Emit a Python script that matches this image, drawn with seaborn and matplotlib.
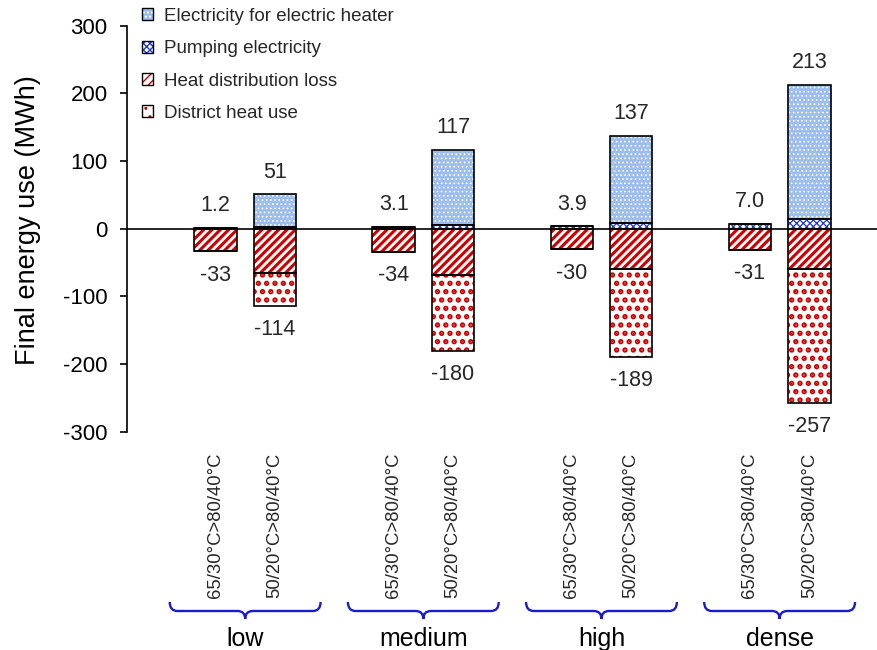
import numpy as np
import pandas as pd
import matplotlib
matplotlib.use("Agg")
import matplotlib.pyplot as plt
import seaborn as sns
from matplotlib.path import Path
from matplotlib.patches import PathPatch, Patch
from matplotlib.transforms import blended_transform_factory
from matplotlib.legend_handler import HandlerTuple

# ---- data (MWh), bars ordered low..dense, each pair = (65/30, 50/20) ----
densities = ["low", "medium", "high", "dense"]
cases = ["65/30°C>80/40°C", "50/20°C>80/40°C"]
heater = [0, 49, 0, 111, 0, 129, 0, 198]
pumping = [1.2, 2, 3.1, 6, 3.9, 8, 7.0, 15]
loss = [-33, -66, -34, -69, -30, -60, -31, -60]
district = [0, -48, 0, -111, 0, -129, 0, -197]

sns.set_theme(style="white")
plt.rcParams["font.family"] = ["Liberation Sans", "DejaVu Sans"]
plt.rcParams["axes.unicode_minus"] = False

pos = [g * 3 + k for g in range(len(densities)) for k in range(len(cases))]
df = pd.DataFrame({"pos": pos, "heater": heater, "pumping": pumping,
                   "loss": loss, "district": district})
df["pos_total"] = df["heater"] + df["pumping"]
df["neg_total"] = df["loss"] + df["district"]

fig = plt.figure(figsize=(8.77, 6.5), dpi=100)
ax = fig.add_axes([0.1448, 0.3358, 0.8552, 0.6247])

W = 0.715
styles = {
    "heater": dict(face="#9dbdec", hatch="....", hcolor="white", hlw=0.7),
    "pumping": dict(face="white", hatch="xxxxx", hcolor="#2238d0", hlw=0.9),
    "loss": dict(face="white", hatch="////", hcolor="#d00000", hlw=2.2),
    "district": dict(face="white", hatch="..", hcolor="#cc0000", hlw=2.6),
}


def layer(col, st):
    before = len(ax.patches)
    with plt.rc_context({"hatch.linewidth": st["hlw"]}):
        sns.barplot(data=df, x="pos", y=col, native_scale=True, width=W,
                    color=st["face"], saturation=1, hatch=st["hatch"],
                    edgecolor=st["hcolor"], linewidth=0, errorbar=None,
                    ax=ax, zorder=2)
    for p in ax.patches[before:]:
        if hasattr(p, "set_hatch_linewidth"):
            p.set_hatch_linewidth(st["hlw"])


# overlapping layers give the stacked look
layer("pos_total", styles["heater"])
layer("pumping", styles["pumping"])
layer("neg_total", styles["district"])
layer("loss", styles["loss"])

# black outlines around every segment
ol = dict(width=W, fill=False, edgecolor="black", linewidth=1.2, zorder=3)
ax.bar(df["pos"], df["pumping"], **ol)
ax.bar(df["pos"], df["heater"], bottom=df["pumping"], **ol)
ax.bar(df["pos"], df["loss"], **ol)
ax.bar(df["pos"], df["district"], bottom=df["loss"], **ol)

ax.axhline(0, color="black", lw=1.2, zorder=4)

# value labels
for i, r in df.iterrows():
    fmt = "{:.1f}" if i % 2 == 0 else "{:.0f}"
    ax.annotate(fmt.format(r["pos_total"]), xy=(r["pos"], r["pos_total"]),
                xytext=(0, 22), textcoords="offset pixels", ha="center",
                va="center", fontsize=15.5)
    ax.annotate("{:.0f}".format(r["neg_total"]), xy=(r["pos"], r["neg_total"]),
                xytext=(0, -24), textcoords="offset pixels", ha="center",
                va="center", fontsize=15.5)

ax.set_xlim(-1.49, 11.14)
ax.set_ylim(-300, 300)
ax.set_yticks(range(-300, 301, 100))
ax.set_xticks(pos)
ax.set_xticklabels([cases[k] for g in range(len(densities)) for k in range(len(cases))],
                   rotation=90, fontsize=13.3)
ax.tick_params(axis="x", length=0, pad=15)
ax.tick_params(axis="y", direction="out", length=5, width=1.2, pad=9,
               labelsize=16, colors="black", left=True)
for s in ["top", "right", "bottom"]:
    ax.spines[s].set_visible(False)
ax.spines["left"].set_color("black")
ax.spines["left"].set_linewidth(1.2)
ax.set_xlabel("")
ax.set_ylabel("Final energy use (MWh)", fontsize=19.5, color="black")
ax.yaxis.set_label_coords(-0.115, 0.52)

# curly braces and density labels under each group
tr = blended_transform_factory(ax.transData, fig.transFigure)
y_top, y_mid, y_tip = 1 - 602 / 650, 1 - 611 / 650, 1 - 619 / 650
half, c = 1.27, 0.13
for g, name in enumerate(densities):
    xc = g * 3 + 0.5
    x0, x1 = xc - half, xc + half
    verts = [(x0, y_top), (x0, y_mid), (x0 + c, y_mid),
             (xc - c, y_mid),
             (xc, y_mid), (xc, y_tip),
             (xc, y_mid), (xc + c, y_mid),
             (x1 - c, y_mid),
             (x1, y_mid), (x1, y_top)]
    codes = [Path.MOVETO, Path.CURVE3, Path.CURVE3,
             Path.LINETO,
             Path.CURVE3, Path.CURVE3,
             Path.CURVE3, Path.CURVE3,
             Path.LINETO,
             Path.CURVE3, Path.CURVE3]
    ax.add_patch(PathPatch(Path(verts, codes), transform=tr, fill=False,
                           edgecolor="#1a1ad0", lw=1.7, clip_on=False))
    ax.text(xc, 1 - 646 / 650, name, transform=tr, ha="center",
            va="baseline", fontsize=18, color="black")

# legend
order = ["heater", "pumping", "loss", "district"]
names = ["Electricity for electric heater", "Pumping electricity",
         "Heat distribution loss", "District heat use"]
handles = []
for k in order:
    st = styles[k]
    handles.append((Patch(facecolor=st["face"], hatch=st["hatch"],
                          edgecolor=st["hcolor"], linewidth=0),
                    Patch(fill=False, edgecolor="black", linewidth=1.0)))
fig.legend(handles, names, loc="upper left", bbox_to_anchor=(0.162, 0.988),
           frameon=False, fontsize=13.5, handlelength=0.6, handleheight=0.6,
           handletextpad=0.55, labelspacing=0.82, borderpad=0, borderaxespad=0,
           handler_map={tuple: HandlerTuple(ndivide=1, pad=0)})

fig.savefig("out.png", dpi=100)
